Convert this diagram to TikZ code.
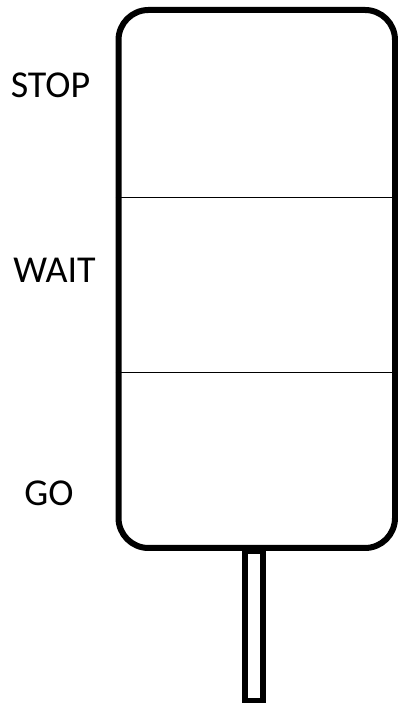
\documentclass[tikz,border=0pt]{standalone}
\usepackage{fontspec}
\setmainfont{Carlito}
\usetikzlibrary{positioning}

\begin{document}
\begin{tikzpicture}[x=1pt, y=1pt]
        \useasboundingbox (0,0) rectangle (398,703);
        \node[draw, line width=6pt, minimum width=18pt, minimum height=150.5pt,
              inner sep=0pt, anchor=north] (pole) at (254,155) {};
        \node[draw, line width=6pt, rounded corners=30pt, fill=white,
              minimum width=276.5pt, minimum height=538pt,
              inner sep=0pt] (light) at (256.75,424) {};
        \coordinate (sepA) at (0,505.7);
        \coordinate (sepB) at (0,330.7);
        \draw[line width=1.4pt] (light.west |- sepA) -- (light.east |- sepA);
        \draw[line width=1.4pt] (light.west |- sepB) -- (light.east |- sepB);
        \node[font=\fontsize{38}{42}\selectfont] (stop) at (50.5,617.5) {STOP};
        \node[font=\fontsize{38}{42}\selectfont] (wait) at (54.5,433) {WAIT};
        \node[font=\fontsize{38}{42}\selectfont] (go) at (49,209.5) {GO};
      \end{tikzpicture}
\end{document}
